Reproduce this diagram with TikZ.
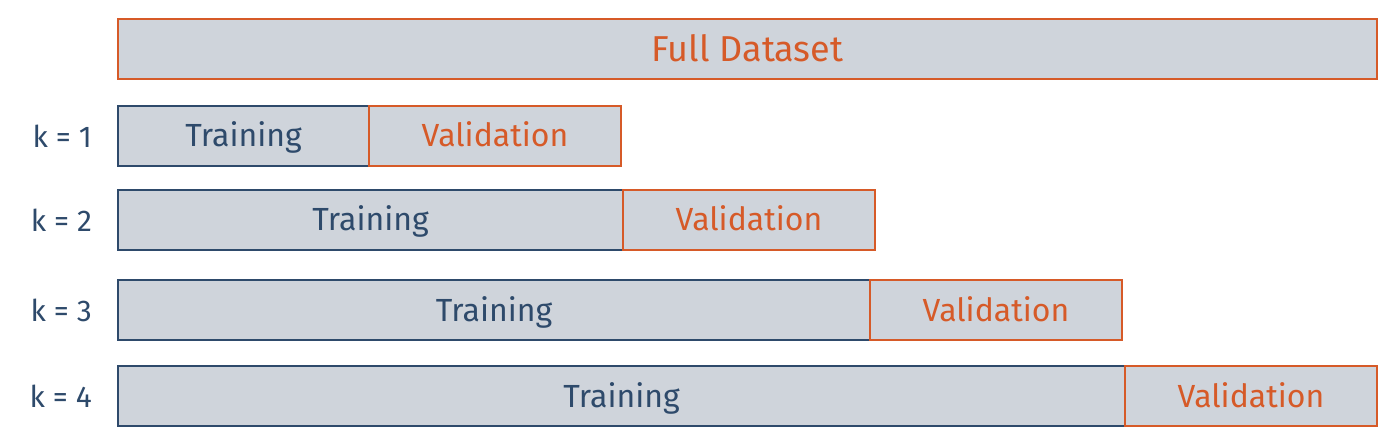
\documentclass[tikz,border=0pt]{standalone}
\usepackage{fontspec}
\setmainfont{Fira Sans}
\usetikzlibrary{positioning}

\definecolor{boxfill}{HTML}{CFD4DB}
\definecolor{navy}{HTML}{2E4A6B}
\definecolor{rust}{HTML}{D65A28}

\begin{document}
\begin{tikzpicture}[x=1pt, y=-1pt, line width=1.6pt,
    part/.style={draw, fill=boxfill, anchor=north west, minimum height=60pt,
      inner sep=0pt, outer sep=0pt, text height=28pt, text depth=6pt,
      font=\fontsize{32}{32}\selectfont},
    trainbox/.style={part, draw=navy, text=navy},
    valbox/.style={part, draw=rust, text=rust, minimum width=252pt},
    klabel/.style={text=navy, font=\fontsize{30}{30}\selectfont}]
  \useasboundingbox (0,0) rectangle (1396,446);
  \node[valbox, minimum width=1259pt, text height=31pt, text depth=6pt,
    font=\fontsize{36}{36}\selectfont] (full) at (118,19) {Full Dataset};
  \foreach \k/\y/\w in {1/106/251, 2/190/505, 3/280/752, 4/366/1007} {
    \node[trainbox, minimum width=\w pt] (train\k) at (118,\y) {Training};
    \node[valbox, right=0pt of train\k] (val\k) {Validation};
    \node[klabel, left=22pt of train\k] (k\k) {k = \k};
  }
\end{tikzpicture}
\end{document}
